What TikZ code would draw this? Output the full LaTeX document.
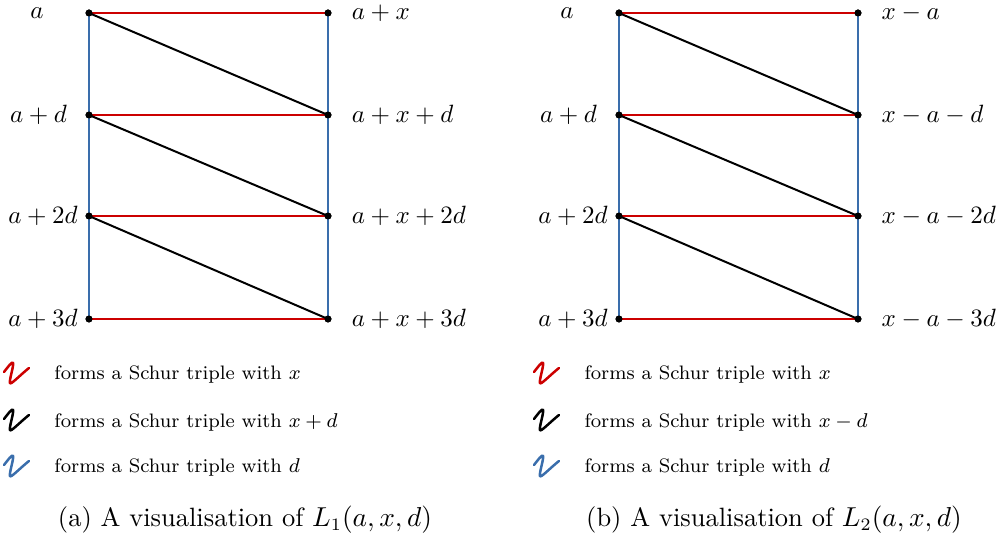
\documentclass[tikz,border=0pt]{standalone}
\usepackage{amssymb, amsmath}
\usepackage{tikz}
\definecolor{linered}{RGB}{204, 0, 0}
\definecolor{lineblue}{RGB}{58, 110, 172}
\usetikzlibrary{arrows}

\begin{document}
\begin{tikzpicture}[x=0.4pt, y=-0.4pt,
		punkt/.style={circle, fill=black, inner sep=0pt, minimum size=2.8pt},
		beschr/.style={inner sep=0.5pt, font=\fontsize{10.3}{12}\selectfont},
		rot/.style={linered, line width=0.8pt},
		blau/.style={lineblue, line width=0.8pt},
		schwarz/.style={black, line width=0.8pt},
		legende/.style={anchor=west, font=\fontsize{7.8}{9}\selectfont, inner sep=0pt},
		kringel/.pic={\draw[line width=1pt, line cap=round, pic actions] (0,0) .. controls (4,-5) and (8,-11) .. (9,-9) .. controls (10,-6) and (5,8) .. (6,11) .. controls (7,13) and (15,4) .. (25,-4);},
		font=\fontsize{10.6}{13}\selectfont]
	%Bildbereich festlegen
	\useasboundingbox (0,0) rectangle (1003,539);
	%Punkte und Beschriftung, links L_1
	\foreach \i/\y/\lx/\lt/\rt in {0/13/37/{a}/{a+x}, 1/115/38.5/{a+d}/{a+x+d}, 2/216/43/{a+2d}/{a+x+2d}, 3/319/43/{a+3d}/{a+x+3d}} {
		\node[punkt] (la\i) at (89,\y) {};
		\node[punkt] (lb\i) at (328,\y) {};
		\node[beschr] (lta\i) at (\lx,\y) {$\lt$};
		\node[beschr, anchor=west] (ltb\i) at (350,\y) {$\rt$};
	}
	%Punkte und Beschriftung, rechts L_2
	\foreach \i/\y/\lx/\lt/\rt in {0/13/567/{a}/{x-a}, 1/115/568.5/{a+d}/{x-a-d}, 2/216/573/{a+2d}/{x-a-2d}, 3/319/573/{a+3d}/{x-a-3d}} {
		\node[punkt] (ra\i) at (619,\y) {};
		\node[punkt] (rb\i) at (858,\y) {};
		\node[beschr] (rta\i) at (\lx,\y) {$\lt$};
		\node[beschr, anchor=west] (rtb\i) at (880,\y) {$\rt$};
	}
	%Kanten zeichnen
	\foreach \s in {l,r} {
		\draw[blau] (\s a0.center) -- (\s a3.center);
		\draw[blau] (\s b0.center) -- (\s b3.center);
		\foreach \i in {0,1,2,3} \draw[rot] (\s a\i.center) -- (\s b\i.center);
		\foreach \i/\j in {0/1,1/2,2/3} \draw[schwarz] (\s a\i.center) -- (\s b\j.center);
		\foreach \i in {0,1,2,3} {
			\fill (\s a\i) circle (3.5);
			\fill (\s b\i) circle (3.5);
		}
	}
	%Legende links
	\pic[linered] at (4,372) {kringel};
	\pic[black] at (4,419) {kringel};
	\pic[lineblue] at (4,465) {kringel};
	\node[legende] (lg1) at (54,375) {forms a Schur triple with $x$};
	\node[legende] (lg2) at (54,422) {forms a Schur triple with $x+d$};
	\node[legende] (lg3) at (54,467) {forms a Schur triple with $d$};
	%Legende rechts
	\pic[linered] at (534,372) {kringel};
	\pic[black] at (534,419) {kringel};
	\pic[lineblue] at (534,465) {kringel};
	\node[legende] (rg1) at (584,375) {forms a Schur triple with $x$};
	\node[legende] (rg2) at (584,422) {forms a Schur triple with $x-d$};
	\node[legende] (rg3) at (584,467) {forms a Schur triple with $d$};
	%Unterschriften
	\node (capa) at (245,520) {(a) A visualisation of $L_1(a,x,d)$};
	\node (capb) at (774,520) {(b) A visualisation of $L_2(a,x,d)$};
\end{tikzpicture}
\end{document}
